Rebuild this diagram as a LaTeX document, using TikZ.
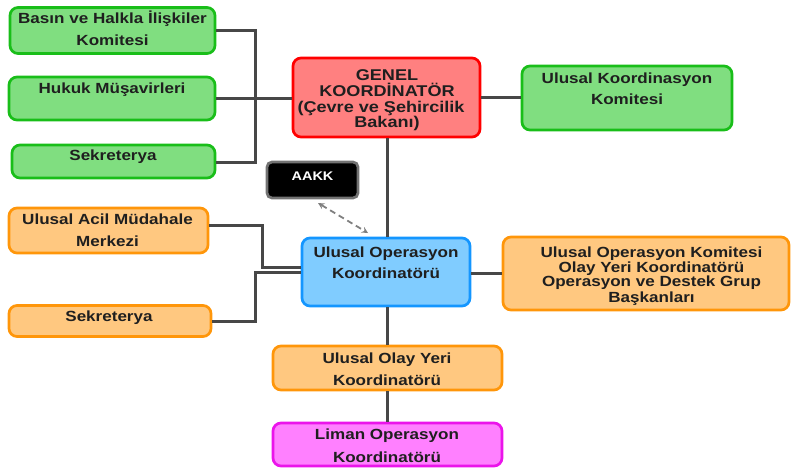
\documentclass[tikz,border=0pt]{standalone}
\usepackage{fontspec}
\setmainfont{Liberation Sans}[FakeStretch=1.16]
\newcommand\tline[5][]{\node[tx,#1] (#2) at (#3,#4) {#5};}
\begin{document}
\begin{tikzpicture}[x=1pt,y=-1pt,
  box/.style={draw, rounded corners=8pt, line width=2.7pt, inner sep=0pt},
  greenbox/.style={box, fill={rgb,255:red,128;green,222;blue,128}, draw={rgb,255:red,25;green,190;blue,25}},
  redbox/.style={box, fill={rgb,255:red,255;green,128;blue,128}, draw={rgb,255:red,255;green,0;blue,0}},
  bluebox/.style={box, fill={rgb,255:red,128;green,204;blue,255}, draw={rgb,255:red,20;green,150;blue,255}},
  orbox/.style={box, fill={rgb,255:red,255;green,200;blue,128}, draw={rgb,255:red,255;green,150;blue,10}},
  magbox/.style={box, fill={rgb,255:red,255;green,128;blue,255}, draw={rgb,255:red,235;green,20;blue,235}},
  blkbox/.style={box, fill=black, draw=black!55, rounded corners=5pt},
  tx/.style={anchor=base, inner sep=0pt, font=\fontsize{14.7}{17}\selectfont\bfseries, text=black!88},
  conn/.style={line width=3pt, draw=black!72},
]
\useasboundingbox (0,0) rectangle (791,468);
% boxes
\node[greenbox, minimum width=205, minimum height=46] (basin) at (112.5,30.5) {};
\node[greenbox, minimum width=206, minimum height=43] (hukuk) at (112,98.5) {};
\node[greenbox, minimum width=203, minimum height=33] (sek1) at (113.5,161.5) {};
\node[redbox, minimum width=187, minimum height=79] (gen) at (386.5,97.5) {};
\node[greenbox, minimum width=210, minimum height=64] (ukk) at (627,98) {};
\node[blkbox, minimum width=91, minimum height=36] (aakk) at (312.5,180) {};
\node[orbox, minimum width=199, minimum height=45] (acil) at (108.5,230.5) {};
\node[bluebox, minimum width=168, minimum height=68] (uok) at (386,272) {};
\node[orbox, minimum width=202, minimum height=31] (sek2) at (110,321) {};
\node[orbox, minimum width=286, minimum height=73] (right) at (646,273.5) {};
\node[orbox, minimum width=229, minimum height=44] (uoy) at (387.5,368) {};
\node[magbox, minimum width=229, minimum height=43] (liman) at (387.5,444.5) {};
% texts
\tline{basinA}{112.5}{24}{Basın ve Halkla İlişkiler}
\tline{basinB}{112.5}{46}{Komitesi}
\tline{hukukA}{112}{94}{Hukuk Müşavirleri}
\tline{sekA}{113}{160}{Sekreterya}
\tline[font=\fontsize{15.6}{17}\selectfont\bfseries]{genA}{387}{81}{GENEL}
\tline[font=\fontsize{15.6}{17}\selectfont\bfseries]{genB}{387}{96.5}{KOORDİNATÖR}
\tline[font=\fontsize{15.6}{17}\selectfont\bfseries]{genC}{381}{112}{(Çevre ve Şehircilik}
\tline[font=\fontsize{15.6}{17}\selectfont\bfseries]{genD}{387}{127.5}{Bakanı)}
\tline{ukkA}{627}{84}{Ulusal Koordinasyon}
\tline{ukkB}{627}{105}{Komitesi}
\tline[font=\fontsize{12.5}{14}\selectfont\bfseries, text=white]{aakkA}{312.5}{180}{AAKK}
\tline{acilA}{107.5}{224}{Ulusal Acil Müdahale}
\tline{acilB}{107.5}{246}{Merkezi}
\tline{uokA}{386}{257}{Ulusal Operasyon}
\tline{uokB}{386}{278}{Koordinatörü}
\tline{sekB}{109}{321}{Sekreterya}
\tline{rightA}{651.5}{257}{Ulusal Operasyon Komitesi}
\tline{rightB}{651.5}{272}{Olay Yeri Koordinatörü}
\tline{rightC}{651.5}{286.5}{Operasyon ve Destek Grup}
\tline{rightD}{651.5}{302}{Başkanları}
\tline{uoyA}{387}{363}{Ulusal Olay Yeri}
\tline{uoyB}{387}{385}{Koordinatörü}
\tline{limanA}{387}{439}{Liman Operasyon}
\tline{limanB}{387}{462}{Koordinatörü}
% connectors
\coordinate (bx) at (255,99);
\draw[conn] (basin.east |- 0,31) -| (bx);
\draw[conn] (sek1.east |- 0,162) -| (bx);
\draw[conn] (hukuk.east |- 0,99) -- (gen.west |- 0,99);
\draw[conn] (gen.east |- 0,98) -- (ukk.west |- 0,98);
\draw[conn] (gen.south -| 387,0) -- (uok.north -| 387,0);
\coordinate (ac) at (262,267);
\coordinate (sc) at (255,272);
\draw[conn] (acil.east |- 0,225) -| (ac) -- (uok.west |- ac);
\draw[conn] (sek2.east |- 0,321) -| (sc) -- (uok.west |- sc);
\draw[conn] (uok.east |- 0,273) -- (right.west |- 0,273);
\draw[conn] (uok.south -| 387,0) -- (uoy.north -| 387,0);
\draw[conn] (uoy.south -| 387,0) -- (liman.north -| 387,0);
\coordinate (da) at (318,203);
\coordinate (db) at (368,233);
\draw[line width=1.8pt, draw=black!50, dash pattern=on 6pt off 4pt, <->, >=stealth] (da) -- (db);
\end{tikzpicture}
\end{document}
